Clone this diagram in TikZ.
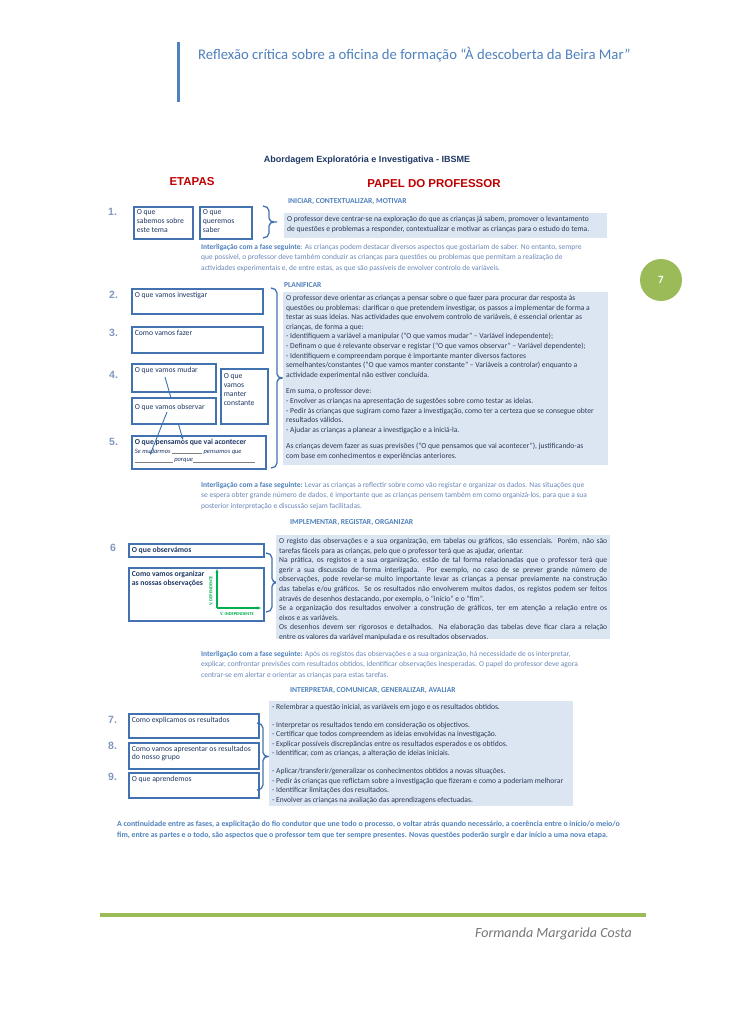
\documentclass[tikz,border=0pt]{standalone}
\usepackage{fontspec}
\setmainfont{Carlito}
\newfontfamily\arialfont{Liberation Sans}
\usetikzlibrary{arrows.meta}
\definecolor{boxblue}{RGB}{66,114,176}
\definecolor{boxtext}{RGB}{31,56,100}
\definecolor{numblue}{RGB}{128,152,192}
\definecolor{panelfill}{RGB}{220,230,242}
\definecolor{paneltext}{RGB}{45,55,85}
\definecolor{headblue}{RGB}{79,129,189}
\definecolor{linkblue}{RGB}{105,135,185}
\definecolor{navy}{RGB}{31,56,100}
\definecolor{etapared}{RGB}{192,0,0}
\definecolor{pagegreen}{RGB}{155,187,89}
\definecolor{axisgreen}{RGB}{0,176,80}
\definecolor{footgray}{RGB}{118,118,118}
\newcommand{\boxtxt}[3]{\parbox[c][#2pt][t]{#1pt}{#3}}
\newcommand{\linhaj}[1]{\makebox[\linewidth][s]{#1}}
\newcommand{\lacuna}[1]{\textcolor{gray}{\rule[-0.5pt]{#1pt}{0.4pt}}}
\newcommand{\chaveta}[3]{\draw[chavetalinha] (#1,#2) to[out=0,in=90] (#1+6,#2+5) -- (#1+6,{(#2+#3)/2-4}) to[out=-90,in=180] (#1+11,{(#2+#3)/2}) -- (#1+14,{(#2+#3)/2}) (#1+11,{(#2+#3)/2}) to[out=180,in=90] (#1+6,{(#2+#3)/2+4}) -- (#1+6,#3-5) to[out=-90,in=0] (#1,#3);}
\tikzset{
  etapa/.style={draw=boxblue, line width=1.6pt, fill=white, inner sep=3pt, anchor=north west, text=boxtext, font=\fontsize{7.7}{8.8}\selectfont},
  papel/.style={fill=panelfill, inner sep=3pt, anchor=north west, text=paneltext, font=\fontsize{7.6}{9.6}\selectfont},
  fase/.style={anchor=west, inner sep=0pt, text=headblue, font=\bfseries\fontsize{7.6}{9}\selectfont},
  num/.style={anchor=west, inner sep=0pt, text=numblue, font=\arialfont\bfseries\fontsize{10.5}{12}\selectfont},
  ligacao/.style={anchor=north west, inner sep=0pt, align=left, text=linkblue, font=\fontsize{7.5}{10.3}\selectfont},
  chavetalinha/.style={draw=boxblue, line width=1.3pt},
  seta/.style={draw=boxblue, line width=0.9pt, -{Stealth[length=4pt]}},
  eixo/.style={draw=axisgreen, line width=1.3pt, -{Stealth[length=4pt]}}
}
\begin{document}
\begin{tikzpicture}[x=1pt,y=-1pt]
  \fill[white] (0,0) rectangle (728,1030);
  \useasboundingbox (0,0) rectangle (728,1030);
  \draw[headblue, line width=3pt] (178,42) -- (178,102);
  \node[anchor=west, inner sep=0pt, text=headblue, font=\fontsize{14.7}{16}\selectfont] (titulo) at (198,55) {Reflexão crítica sobre a oficina de formação “À descoberta da Beira Mar”};
  \fill[pagegreen] (661,280) circle (21);
  \node[text=white, font=\bfseries\fontsize{11}{12}\selectfont] (pagina) at (661,280) {7};
  \node[text=navy, font=\arialfont\bfseries\fontsize{9}{10}\selectfont] (abordagem) at (367,160) {Abordagem Exploratória e Investigativa - IBSME};
  \node[text=etapared, font=\arialfont\bfseries\fontsize{11.5}{14}\selectfont] (etapas) at (192,182) {ETAPAS};
  \node[text=etapared, font=\arialfont\bfseries\fontsize{11.5}{14}\selectfont] (papelprof) at (434,184) {PAPEL DO PROFESSOR};

  \node[num] (n1) at (108,212) {1.};
  \node[etapa] (sabemos) at (133,206) {\boxtxt{53}{26}{O que\\ sabemos sobre\\ este tema}};
  \node[etapa] (queremos) at (199,206) {\boxtxt{46}{26}{O que\\ queremos\\ saber}};
  \chaveta{263}{206}{238}
  \node[fase] (iniciar) at (288,202) {INICIAR, CONTEXTUALIZAR, MOTIVAR};
  \node[papel] (iniciartxt) at (284,213) {\boxtxt{317}{19}{O professor deve centrar-se na exploração do que as crianças já sabem, promover o levantamento\\ de questões e problemas a responder, contextualizar e motivar as crianças para o estudo do tema.}};
  \node[ligacao] (lig1) at (201,244) {\textbf{\color{headblue}Interligação com a fase seguinte}: As crianças podem destacar diversos aspectos que gostariam de saber. No entanto, sempre\\ que possível, o professor deve também conduzir as crianças para questões ou problemas que permitam a realização de\\ actividades experimentais e, de entre estas,  as que são passíveis de envolver controlo de variáveis.};

  \node[num] (n2) at (109,295) {2.};
  \node[num] (n3) at (109,333) {3.};
  \node[num] (n4) at (109,375) {4.};
  \node[num] (n5) at (109,442) {5.};
  \node[etapa] (investigar) at (131,288) {\boxtxt{125}{19}{O que vamos investigar}};
  \node[etapa] (fazer) at (131,326) {\boxtxt{125}{20}{Como vamos fazer}};
  \node[etapa] (pensamos) at (131,435) {\boxtxt{128}{27}{\textbf{O que pensamos que vai acontecer}\\ {\fontsize{6.5}{9}\selectfont\itshape Se mudarmos \lacuna{30} pensamos que\\ \lacuna{38} porque\lacuna{62}}}};
  \node[etapa] (mudar) at (131,363) {\boxtxt{78}{22}{O que vamos mudar}};
  \coordinate (mudarponto) at (165,377);
  \coordinate (pensamosponto) at (183,440);
  \draw[seta] (mudarponto) -- (pensamosponto);
  \node[etapa] (observar) at (131,397) {\boxtxt{78}{20}{\vspace{3pt}O que vamos observar}};
  \coordinate (observarponto) at (167,412);
  \coordinate (mudarmosponto) at (150,455);
  \draw[seta] (observarponto) -- (mudarmosponto);
  \node[etapa] (constante) at (220,368) {\boxtxt{41}{49}{\vspace{2pt}O que\\ vamos\\ manter\\ constante}};
  \chaveta{271}{288}{468}
  \node[fase] (planif) at (284,285) {PLANIFICAR};
  \node[papel] (planiftxt) at (283,292) {\boxtxt{319}{167}{O professor deve orientar as crianças a pensar sobre o que fazer para procurar dar resposta às\\ questões ou problemas: clarificar o que pretendem investigar, os passos a implementar de forma a\\ testar as suas ideias. Nas actividades que envolvem controlo de variáveis, é essencial orientar as\\ crianças, de forma a que:\\ - Identifiquem a variável a manipular (“O que vamos mudar” – Variável independente);\\ - Definam o que é relevante observar e registar (“O que vamos observar” – Variável dependente);\\ - Identifiquem e compreendam porque é importante manter diversos factores\\ semelhantes/constantes (“O que vamos manter constante” – Variáveis a controlar) enquanto a\\ actividade experimental não estiver concluída.\\[7pt] Em suma, o professor deve:\\ - Envolver as crianças na apresentação de sugestões sobre como testar as  ideias.\\ - Pedir às crianças que sugiram como fazer a investigação, como ter a certeza que se consegue obter\\ resultados válidos.\\ - Ajudar as crianças a planear a investigação e a iniciá-la.\\[7pt] As crianças devem fazer as suas previsões (“O que pensamos que vai acontecer”), justificando-as\\ com base em conhecimentos e experiências anteriores.}};
  \node[ligacao] (lig2) at (201,482) {\textbf{\color{headblue}Interligação com a fase seguinte:}  Levar as crianças a reflectir sobre como vão registar e organizar os dados. Nas situações que\\ se espera obter grande número de dados, é importante que as crianças pensem  também em como organizá-los, para que a sua\\ posterior interpretação  e discussão sejam facilitadas.};

  \node[fase] (implementar) at (290,523) {IMPLEMENTAR, REGISTAR, ORGANIZAR};
  \node[num] (n6) at (110,548) {6};
  \node[etapa] (observamos) at (128,543) {\boxtxt{129}{7}{\bfseries O que observámos}};
  \node[etapa] (organizar) at (128,567) {\boxtxt{129}{47}{\bfseries Como vamos organizar\\ as nossas observações}};
  \coordinate (origem) at (217,608);
  \coordinate (vtopo) at (217,569);
  \coordinate (hfim) at (261,608);
  \draw[eixo] (origem) -- (vtopo);
  \draw[eixo] (origem) -- (hfim);
  \node[rotate=90, inner sep=0pt, text=axisgreen, font=\bfseries\fontsize{4.5}{5}\selectfont] (vdep) at (211,591) {V. DEPENDENTE};
  \node[inner sep=0pt, text=axisgreen, font=\bfseries\fontsize{4.5}{5}\selectfont] (vind) at (237,614) {V. INDEPENDENTE};
  \chaveta{266}{553}{612}
  \node[papel] (registartxt) at (276,535) {\boxtxt{328}{98}{\linhaj{O registo das observações e a sua organização, em tabelas ou gráficos, são essenciais. Porém, não são}\\ tarefas fáceis para as crianças, pelo que o professor terá que as ajudar, orientar.\\ \linhaj{Na prática, os registos e a sua organização, estão de tal forma relacionadas que o professor terá que}\\ \linhaj{gerir a sua discussão de forma interligada. Por exemplo, no caso de se prever grande número de}\\ \linhaj{observações, pode revelar-se muito importante levar as crianças a pensar previamente na construção}\\ \linhaj{das tabelas e/ou gráficos. Se os resultados não envolverem muitos dados, os registos podem ser feitos}\\ através de desenhos destacando, por exemplo, o “início” e o “fim”.\\ \linhaj{Se a organização dos resultados envolver a construção de gráficos, ter em atenção a relação entre os}\\ eixos e as variáveis.\\ \linhaj{Os desenhos devem ser rigorosos e detalhados. Na elaboração das tabelas deve ficar clara a relação}\\ entre os valores da variável manipulada e os resultados observados.}};
  \node[ligacao] (lig3) at (201,651) {\textbf{\color{headblue}Interligação com a fase seguinte:} Após os registos das observações e a sua organização, há necessidade de os interpretar,\\ explicar, confrontar previsões com resultados obtidos, identificar observações inesperadas. O papel do professor deve agora\\ centrar-se em alertar e orientar as crianças para estas tarefas.};

  \node[fase] (interpretar) at (290,691) {INTERPRETAR, COMUNICAR, GENERALIZAR, AVALIAR};
  \node[num] (n7) at (108,720) {7.};
  \node[num] (n8) at (108,746) {8.};
  \node[num] (n9) at (108,777) {9.};
  \node[etapa] (explicamos) at (128,713) {\boxtxt{124}{18}{Como explicamos os resultados}};
  \node[etapa] (apresentar) at (128,742) {\boxtxt{124}{20}{Como vamos apresentar os resultados\\ do nosso grupo}};
  \node[etapa] (aprendemos) at (128,772) {\boxtxt{124}{19}{O que aprendemos}};
  \chaveta{257}{723}{790}
  \node[papel] (interptxt) at (269,701) {\boxtxt{298}{99}{- Relembrar a questão inicial, as variáveis em jogo e os resultados obtidos.\\[8pt] -  Interpretar os resultados tendo em consideração os objectivos.\\ - Certificar que todos compreendem as ideias envolvidas na investigação.\\ - Explicar possíveis discrepâncias entre os resultados esperados e os obtidos.\\ - Identificar, com as crianças, a alteração de ideias iniciais.\\[8pt] - Aplicar/transferir/generalizar os conhecimentos obtidos a novas situações.\\ - Pedir às crianças que reflictam sobre a investigação que fizeram e como a poderiam melhorar\\ - Identificar limitações dos resultados.\\ - Envolver as crianças na avaliação das aprendizagens efectuadas.}};

  \node[anchor=north west, inner sep=0pt, align=left, text=headblue, font=\bfseries\fontsize{7.8}{11}\selectfont] (continuidade) at (117,821) {A continuidade entre as fases, a explicitação do fio condutor que une todo o processo, o voltar atrás quando necessário, a coerência entre o início/o meio/o\\ fim, entre as partes e o todo, são aspectos que o professor tem que ter sempre presentes. Novas questões poderão surgir e dar início a uma nova etapa.};
  \draw[pagegreen, line width=4pt] (100,915) -- (646,915);
  \node[anchor=east, inner sep=0pt, text=footgray, font=\itshape\fontsize{14}{16}\selectfont] (formanda) at (632,934) {Formanda Margarida Costa};
\end{tikzpicture}
\end{document}
